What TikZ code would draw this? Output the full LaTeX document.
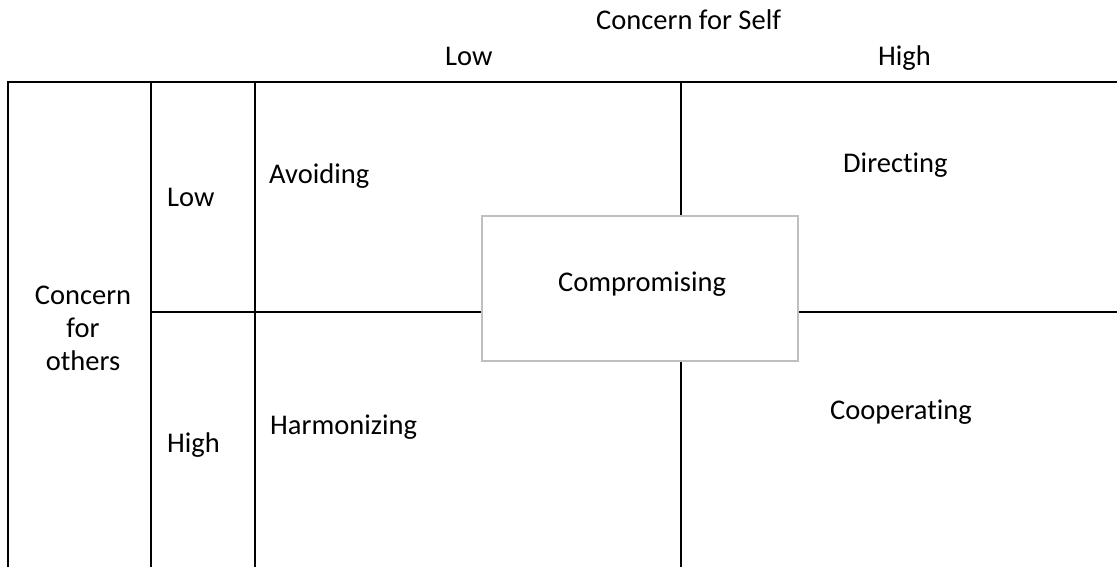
\documentclass[tikz,border=0pt]{standalone}
\usepackage{fontspec}
\setmainfont{Carlito}[Ligatures=NoCommon]
\begin{document}
\begin{tikzpicture}[x=1pt,y=-1pt,
  grid/.style={line width=1.4pt,black},
  lbl/.style={font=\fontsize{28.5}{33}\selectfont,inner sep=0pt,anchor=base west},
  clbl/.style={font=\fontsize{28.5}{33}\selectfont,inner sep=0pt,anchor=base},
  compbox/.style={draw=black!25,line width=1.3pt,fill=white,minimum width=316pt,minimum height=145pt,inner sep=0pt}]
\useasboundingbox (0,0) rectangle (1117,567);
% grid lines
\draw[grid] (8,567) -- (8,82) -- (1117,82);
\draw[grid] (151,82) -- (151,567);
\draw[grid] (255,82) -- (255,567);
\draw[grid] (681,82) -- (681,567);
\draw[grid] (151,312) -- (1117,312);
% centre box
\node[compbox] (comp) at (640,288.5) {};
\node[lbl] (comptext) at (558,291) {Compromising};
% headings
\node[lbl] (cself) at (596,30) {Concern for Self};
\node[lbl] (slow) at (445,66) {Low};
\node[lbl] (shigh) at (878,66) {High};
\node[clbl] (co1) at (83,304) {Concern};
\node[clbl] (co2) at (83,337) {for};
\node[clbl] (co3) at (83,370) {others};
\node[lbl] (olow) at (167,207) {Low};
\node[lbl] (ohigh) at (167,452) {High};
% quadrant labels
\node[lbl] (avoid) at (269,183) {Avoiding};
\node[lbl] (harm) at (270,434) {Harmonizing};
\node[lbl] (dir) at (843,173) {Directing};
\node[lbl] (coop) at (830,419) {Cooperating};
\end{tikzpicture}
\end{document}
